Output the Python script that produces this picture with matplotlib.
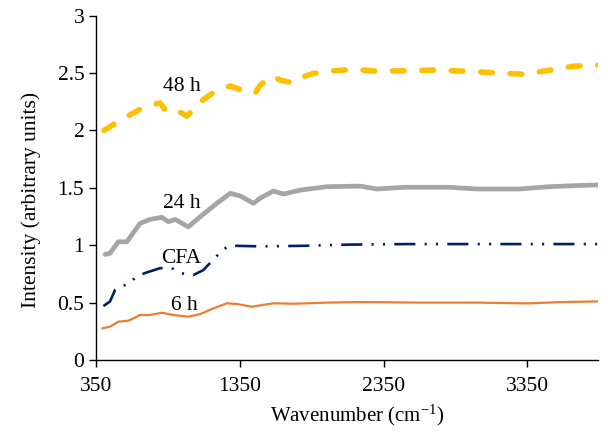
import matplotlib as mpl
mpl.use('Agg')
import matplotlib.pyplot as plt
import numpy as np

plt.rcParams['font.family'] = ['Liberation Serif']
plt.rcParams['mathtext.default'] = 'regular'

# 6 h spectrum
wn_6h = [395, 447, 505, 575, 656, 726, 807, 888, 992, 1074, 1166, 1260, 1329, 1433,
         1584, 1723, 1955, 2187, 2600, 3000, 3350, 3600, 3840]
int_6h = [0.276, 0.29, 0.334, 0.342, 0.392, 0.392, 0.412, 0.392, 0.377, 0.40, 0.45,
          0.494, 0.488, 0.464, 0.494, 0.49, 0.50, 0.505, 0.50, 0.50, 0.493, 0.505, 0.51]

# untreated CFA
wn_cfa = [401, 447, 482, 517, 575, 633, 703, 795, 877, 946, 1027, 1097, 1131, 1171,
          1225, 1283, 1491, 1800, 2100, 2500, 3000, 3500, 3840]
int_cfa = [0.47, 0.51, 0.61, 0.64, 0.66, 0.73, 0.763, 0.80, 0.80, 0.755, 0.74, 0.784,
           0.83, 0.877, 0.958, 0.996, 0.99, 0.995, 1.005, 1.01, 1.01, 1.01, 1.01]

# 24 h spectrum
wn_24h = [413, 447, 505, 564, 656, 726, 807, 853, 900, 992, 1074, 1190, 1283, 1352,
          1445, 1491, 1584, 1653, 1770, 1955, 2187, 2300, 2500, 2800, 3000, 3300,
          3500, 3700, 3840]
int_24h = [0.92, 0.93, 1.03, 1.03, 1.19, 1.225, 1.243, 1.205, 1.225, 1.16, 1.248,
           1.365, 1.452, 1.43, 1.365, 1.41, 1.472, 1.446, 1.48, 1.51, 1.515, 1.49,
           1.505, 1.505, 1.49, 1.49, 1.51, 1.52, 1.525]

# 48 h spectrum
wn_48h = [405, 528, 679, 795, 842, 935, 981, 1097, 1166, 1283, 1364, 1456, 1491, 1573,
          1630, 1712, 1747, 1862, 2001, 2141, 2303, 2488, 2697, 2906, 3115, 3324,
          3532, 3672, 3840]
int_48h = [2.0, 2.096, 2.20, 2.24, 2.16, 2.16, 2.125, 2.27, 2.33, 2.387, 2.352, 2.323,
           2.395, 2.474, 2.44, 2.415, 2.45, 2.497, 2.52, 2.532, 2.517, 2.52, 2.526,
           2.517, 2.503, 2.49, 2.53, 2.56, 2.57]

fs = 15.5

fig = plt.figure(figsize=(6.08, 4.32), dpi=100)
ax = fig.add_axes([0.158, 0.1667, 0.826, 0.797])

ax.plot(wn_6h, int_6h, color='#ED7D31', linewidth=1.6)
ax.plot(wn_cfa, int_cfa, color='#002060', linewidth=1.9,
        dashes=(8, 3.5, 0.8, 3.5, 0.8, 3.5))
ax.plot(wn_24h, int_24h, color='#A5A5A5', linewidth=3.4, solid_capstyle='round')
ax.plot(wn_48h, int_48h, color='#FFC000', linewidth=4.0,
        dashes=(2.1, 3.2), dash_capstyle='round')

# series labels
ax.text(948, 2.34, '48 h', fontsize=fs, ha='center', va='baseline')
ax.text(948, 1.324, '24 h', fontsize=fs, ha='center', va='baseline')
ax.text(942, 0.845, 'CFA', fontsize=fs, ha='center', va='baseline')
ax.text(966, 0.436, '6 h', fontsize=fs, ha='center', va='baseline')

ax.set_xlim(350, 3843)
ax.set_ylim(0, 3)
ax.set_xticks([350, 1350, 2350, 3350])
ax.set_yticks(np.arange(0, 3.01, 0.5))
ax.set_yticklabels(['0', '0.5', '1', '1.5', '2', '2.5', '3'])
ax.tick_params(direction='out', length=5, width=1, labelsize=fs, colors='black')
ax.tick_params(axis='x', pad=7)
for side in ['top', 'right']:
    ax.spines[side].set_visible(False)
for side in ['left', 'bottom']:
    ax.spines[side].set_linewidth(1)

ax.set_xlabel('Wavenumber (cm$^{-1}$)', fontsize=15, labelpad=5)
ax.set_ylabel('Intensity (arbitrary units)', fontsize=fs, labelpad=12)
ax.xaxis.label.set_x(0.52)
ax.yaxis.label.set_y(0.465)

fig.savefig('out.png', dpi=100)
